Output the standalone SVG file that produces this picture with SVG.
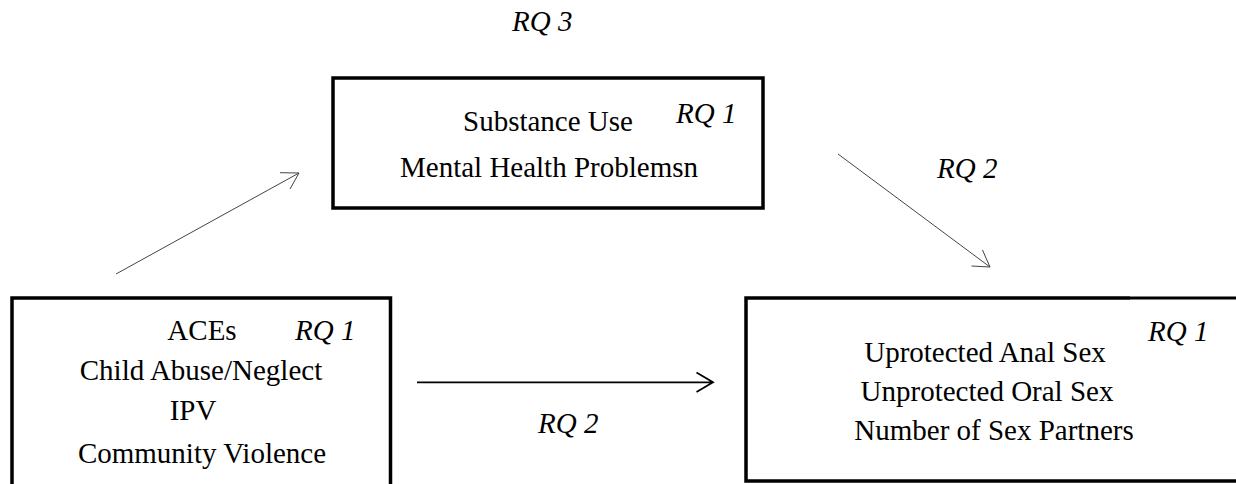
<svg xmlns="http://www.w3.org/2000/svg" width="1236" height="484" viewBox="0 0 1236 484">
<style>
  .box{fill:#fff;stroke:#000;stroke-width:3.5}
  .t{font-family:"Liberation Serif","Times New Roman",serif;font-size:29px;fill:#000;text-anchor:middle}
  .rq{font-family:"Liberation Serif","Times New Roman",serif;font-size:29px;font-style:italic;fill:#000}
  .thin{fill:none;stroke:#444;stroke-width:1}
  .main{fill:none;stroke:#000;stroke-width:1.8}
</style>
<rect width="1236" height="484" fill="#fff"/>
<text class="rq" x="512" y="31">RQ 3</text>
<g id="mediators">
  <rect class="box" x="333" y="78" width="430" height="130"/>
  <text class="t" x="548" y="131">Substance Use</text>
  <text class="rq" x="676" y="123">RQ 1</text>
  <text class="t" x="549" y="177">Mental Health Problemsn</text>
</g>
<g id="aces">
  <path class="box" d="M12,490 V298 H390.5 V490"/>
  <text class="t" x="202" y="340">ACEs</text>
  <text class="rq" x="295" y="340">RQ 1</text>
  <text class="t" x="201" y="380">Child Abuse/Neglect</text>
  <text class="t" x="193" y="420">IPV</text>
  <text class="t" x="202" y="463">Community Violence</text>
</g>
<g id="outcomes">
  <path fill="#fff" stroke="none" d="M746,298 H1240 V481 H746 Z"/>
  <path fill="none" stroke="#000" stroke-width="3.5" d="M1130,298 H746 V481 H1240"/>
  <path fill="none" stroke="#000" stroke-width="3" d="M1130,298 H1240"/>
  <text class="t" x="985" y="362">Uprotected Anal Sex</text>
  <text class="rq" x="1148" y="341">RQ 1</text>
  <text class="t" x="987" y="401">Unprotected Oral Sex</text>
  <text class="t" x="994" y="440">Number of Sex Partners</text>
</g>
<g id="connectors">
  <path class="thin" stroke="#666" d="M116,274 L299,173 M280,172.7 L299,173 L290,189"/>
  <path class="thin" d="M838,154 L990,267 M971.5,266 L990,267 L982.5,250"/>
  <path class="main" d="M417,382.3 H713 M696.5,372.5 L713,382.3 L696.5,392"/>
  <text class="rq" x="937" y="178">RQ 2</text>
  <text class="rq" x="538" y="433">RQ 2</text>
</g>
</svg>
